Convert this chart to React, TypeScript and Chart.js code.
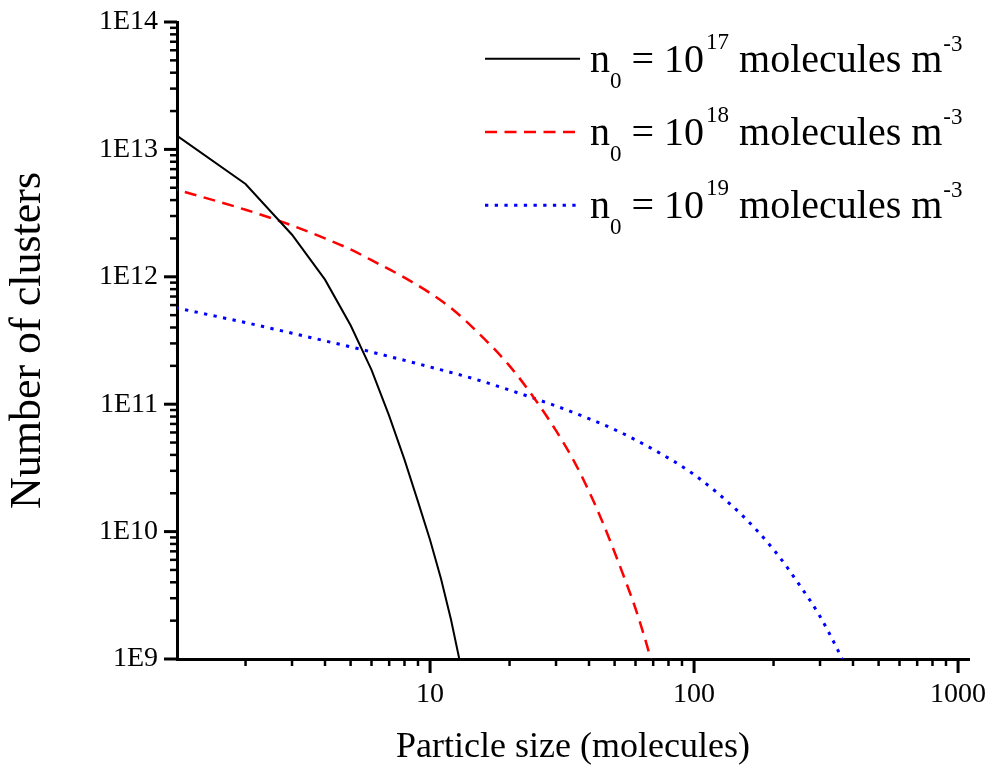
import React, { useEffect, useRef } from 'react';
import { Chart, registerables } from 'chart.js';

Chart.register(...registerables);

// ---- data ----
const xMin = 1.1;
const xMax = 1100;
const yMin = 1e9;
const yMax = 1e14;

const blackX = [1, 2, 3, 4, 5, 6, 7, 8, 9, 10, 11, 12, 13];
const blackY = [1.47e13, 5.35e12, 2.14e12, 9.5e11, 4.16e11, 1.86e11, 8.1e10, 3.67e10, 1.72e10, 8.6e9, 4.27e9, 2.04e9, 9.3e8];

const redX = [1, 2, 3, 4, 5, 6, 8, 10, 12, 15, 20, 25, 30, 35, 40, 45, 50, 55, 60, 65, 70];
const redY = [5.1e12, 3.36e12, 2.53e12, 2.0e12, 1.64e12, 1.35e12, 9.86e11, 7.45e11, 5.69e11, 3.74e11, 2.0e11, 1.09e11, 6.2e10, 3.61e10, 2.07e10, 1.19e10, 6.88e9, 4.1e9, 2.49e9, 1.47e9, 8.6e8];

const blueX = [1, 2, 3, 4, 5, 7, 10, 15, 20, 30, 40, 50, 70, 100, 150, 200, 250, 300, 350, 370];
const blueY = [5.93e11, 4.37e11, 3.61e11, 3.14e11, 2.82e11, 2.37e11, 1.96e11, 1.56e11, 1.29e11, 9.68e10, 7.69e10, 6.32e10, 4.42e10, 2.8e10, 1.38e10, 7.23e9, 3.85e9, 2.16e9, 1.18e9, 9.3e8];

const seriesExponents = ['17', '18', '19'];
const legendParts = { symbol: 'n', sub: '0', mid: ' = 10', unit: ' molecules m', unitExp: '-3' };

const xTickValues = [10, 100, 1000];
const xTickLabels = ['10', '100', '1000'];
const yTickValues = [1e9, 1e10, 1e11, 1e12, 1e13, 1e14];
const yTickLabels = ['1E9', '1E10', '1E11', '1E12', '1E13', '1E14'];

const xTitle = 'Particle size (molecules)';
const yTitle = 'Number of clusters';

const FONT = "'Liberation Serif', 'Times New Roman', serif";

function toPoints(xs: number[], ys: number[]) {
  return xs.map((x, i) => ({ x, y: ys[i] }));
}

function labelFor(value: number, values: number[], labels: string[]) {
  for (let i = 0; i < values.length; i++) {
    if (Math.abs(value - values[i]) / values[i] < 1e-9) return labels[i];
  }
  return '';
}

const tickPlugin = {
  id: 'customTicks',
  afterDraw(chart: any) {
    const ctx = chart.ctx;
    const area = chart.chartArea;
    const xs = chart.scales.x;
    const ys = chart.scales.y;
    ctx.save();
    ctx.strokeStyle = '#000';
    ctx.lineCap = 'butt';
    const eachTick = (min: number, max: number, fn: (v: number, major: boolean) => void) => {
      const e0 = Math.floor(Math.log10(min)) - 1;
      const e1 = Math.ceil(Math.log10(max)) + 1;
      for (let e = e0; e <= e1; e++) {
        for (let m = 1; m <= 9; m++) {
          const v = m * Math.pow(10, e);
          if (v < min * (1 - 1e-9) || v > max * (1 + 1e-9)) continue;
          fn(v, m === 1);
        }
      }
    };
    eachTick(ys.min, ys.max, (v, major) => {
      const p = ys.getPixelForValue(v);
      const len = major ? 13 : 7;
      ctx.lineWidth = major ? 3 : 2.5;
      ctx.beginPath();
      ctx.moveTo(area.left - len, p);
      ctx.lineTo(area.left, p);
      ctx.stroke();
    });
    eachTick(xs.min, xs.max, (v, major) => {
      const p = xs.getPixelForValue(v);
      const len = major ? 14 : 7;
      ctx.lineWidth = major ? 3 : 2.5;
      ctx.beginPath();
      ctx.moveTo(p, area.bottom);
      ctx.lineTo(p, area.bottom + len);
      ctx.stroke();
    });
    ctx.restore();
  },
};

const legendPlugin = {
  id: 'customLegend',
  afterDraw(chart: any) {
    const ctx = chart.ctx;
    const firstBaseline = 71.7;
    const rowGap = 73.3;
    const sampleLeft = 485;
    const sampleRight = 577;
    const textLeft = 590;
    ctx.save();
    chart.data.datasets.forEach((ds: any, i: number) => {
      const base = firstBaseline + i * rowGap;
      ctx.strokeStyle = ds.borderColor;
      ctx.lineWidth = ds.borderWidth;
      ctx.setLineDash(ds.borderDash || []);
      ctx.lineCap = 'butt';
      ctx.beginPath();
      ctx.moveTo(sampleLeft, base - 13);
      ctx.lineTo(i === 0 ? 580 : sampleRight, base - 13);
      ctx.stroke();
      ctx.setLineDash([]);
      ctx.fillStyle = '#000';
      ctx.textBaseline = 'alphabetic';
      ctx.textAlign = 'left';
      let x = textLeft;
      const big = `40px ${FONT}`;
      const small = `23px ${FONT}`;
      ctx.font = big;
      ctx.fillText(legendParts.symbol, x, base);
      x += ctx.measureText(legendParts.symbol).width;
      ctx.font = small;
      ctx.fillText(legendParts.sub, x, base + 16);
      x += ctx.measureText(legendParts.sub).width;
      ctx.font = big;
      ctx.fillText(legendParts.mid, x, base);
      x += ctx.measureText(legendParts.mid).width + 2;
      ctx.font = small;
      ctx.fillText(seriesExponents[i], x, base - 23);
      x += ctx.measureText(seriesExponents[i]).width;
      ctx.font = big;
      ctx.fillText(legendParts.unit, x, base);
      x += ctx.measureText(legendParts.unit).width + 1;
      ctx.font = small;
      ctx.fillText(legendParts.unitExp, x, base - 21);
    });
    ctx.restore();
  },
};

export default function App() {
  const canvasRef = useRef<HTMLCanvasElement | null>(null);

  useEffect(() => {
    const canvas = canvasRef.current;
    if (!canvas) return;
    const chart = new Chart(canvas, {
      type: 'line',
      data: {
        datasets: [
          {
            label: 'n0 = 10^17 molecules m^-3',
            data: toPoints(blackX, blackY),
            borderColor: '#000000',
            borderWidth: 2,
            pointRadius: 0,
            tension: 0,
            fill: false,
          },
          {
            label: 'n0 = 10^18 molecules m^-3',
            data: toPoints(redX, redY),
            borderColor: '#ff0000',
            borderWidth: 2.5,
            borderDash: [12, 7.5],
            pointRadius: 0,
            cubicInterpolationMode: 'monotone',
            fill: false,
          },
          {
            label: 'n0 = 10^19 molecules m^-3',
            data: toPoints(blueX, blueY),
            borderColor: '#0000ff',
            borderWidth: 3,
            borderDash: [3.3, 6.4],
            pointRadius: 0,
            cubicInterpolationMode: 'monotone',
            fill: false,
          },
        ],
      },
      options: {
        responsive: false,
        animation: false,
        devicePixelRatio: 1,
        layout: { padding: { top: 22, right: 23, bottom: 0, left: 0 } },
        plugins: {
          legend: { display: false },
          tooltip: { enabled: false },
        },
        scales: {
          x: {
            type: 'logarithmic',
            min: xMin,
            max: xMax,
            grid: { display: false, drawTicks: false },
            border: { display: true, color: '#000', width: 3 },
            ticks: {
              autoSkip: false,
              maxRotation: 0,
              minRotation: 0,
              padding: 19,
              color: '#000',
              font: { family: FONT, size: 28 },
              callback: (v: any) => labelFor(Number(v), xTickValues, xTickLabels),
            },
            title: {
              display: true,
              text: xTitle,
              color: '#000',
              font: { family: FONT, size: 36 },
              padding: { top: 0, bottom: 0 },
            },
            afterFit: (scale: any) => {
              scale.height = 110;
              scale.paddingLeft = 0;
              scale.paddingRight = 0;
            },
          },
          y: {
            type: 'logarithmic',
            min: yMin,
            max: yMax,
            grid: { display: false, drawTicks: false },
            border: { display: true, color: '#000', width: 3 },
            ticks: {
              autoSkip: false,
              padding: 19,
              color: '#000',
              font: { family: FONT, size: 28 },
              callback: (v: any) => labelFor(Number(v), yTickValues, yTickLabels),
            },
            title: {
              display: true,
              text: yTitle,
              color: '#000',
              font: { family: FONT, size: 44 },
              padding: { top: 2, bottom: 0 },
            },
            afterFit: (scale: any) => {
              scale.width = 177;
              scale.paddingTop = 0;
              scale.paddingBottom = 0;
            },
          },
        },
      },
      plugins: [tickPlugin, legendPlugin],
    } as any);
    return () => chart.destroy();
  }, []);

  return (
    <div style={{ position: 'absolute', left: 0, top: 0, width: 992, height: 769, background: '#fff' }}>
      <canvas ref={canvasRef} width={992} height={769} style={{ width: 992, height: 769, display: 'block' }} />
    </div>
  );
}
